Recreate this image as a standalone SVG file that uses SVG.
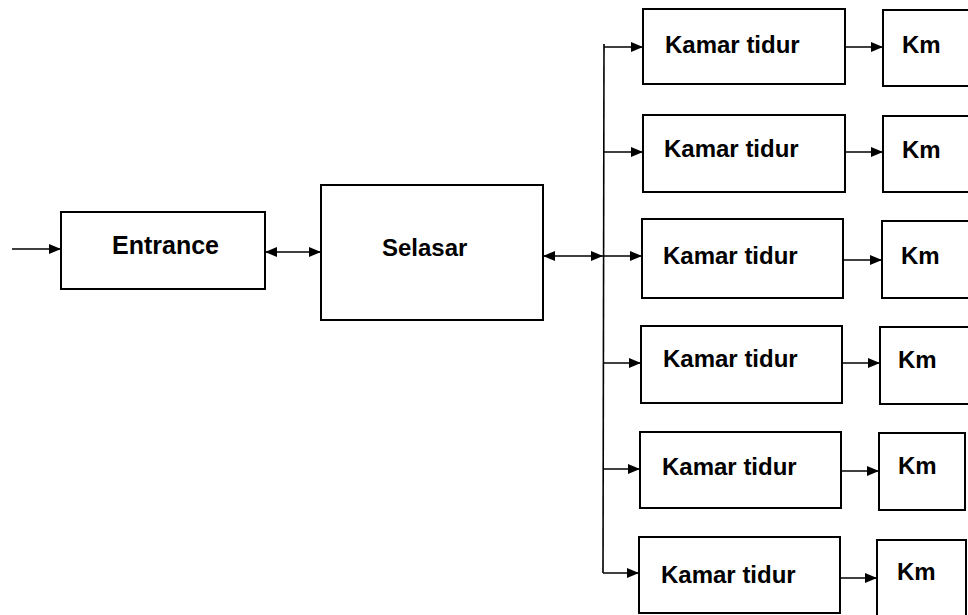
<svg xmlns="http://www.w3.org/2000/svg" width="968" height="615" viewBox="0 0 968 615">
<style>
.box{fill:#fff;stroke:#000;stroke-width:2}
.lbl{font-family:"Liberation Sans",Arial,sans-serif;font-weight:bold;font-size:24px;fill:#000}
.con{stroke:#000;stroke-width:1.6;fill:none}
</style>
<defs>
<marker id="ah" markerUnits="userSpaceOnUse" markerWidth="13" markerHeight="11" refX="12" refY="5" orient="auto-start-reverse">
<path d="M0,0 L12,5 L0,10 z" fill="#000"/>
</marker>
</defs>
<rect width="968" height="615" fill="#fff"/>
<g id="connectors">
<path class="con" d="M12,249 L61,249" marker-end="url(#ah)"/>
<path class="con" d="M265,252 L321,252" marker-start="url(#ah)" marker-end="url(#ah)"/>
<path class="con" d="M543,256 L603,256" marker-start="url(#ah)" marker-end="url(#ah)"/>
<path class="con" d="M604,44 L603,573"/>
<path class="con" d="M604,47 L643,47" marker-end="url(#ah)"/>
<path class="con" d="M604,152 L643,152" marker-end="url(#ah)"/>
<path class="con" d="M603,256 L642,256" marker-end="url(#ah)"/>
<path class="con" d="M603,363 L641,363" marker-end="url(#ah)"/>
<path class="con" d="M603,469 L640,469" marker-end="url(#ah)"/>
<path class="con" d="M603,573 L639,573" marker-end="url(#ah)"/>
<path class="con" d="M845,47 L883,47" marker-end="url(#ah)"/>
<path class="con" d="M845,152 L883,152" marker-end="url(#ah)"/>
<path class="con" d="M843,260 L882,260" marker-end="url(#ah)"/>
<path class="con" d="M842,363 L880,363" marker-end="url(#ah)"/>
<path class="con" d="M841,471 L879,471" marker-end="url(#ah)"/>
<path class="con" d="M840,578 L877,578" marker-end="url(#ah)"/>
</g>
<g id="entrance"><rect class="box" x="61" y="212" width="204" height="77"/><text class="lbl" x="112" y="254" style="font-size:25px">Entrance</text></g>
<g id="selasar"><rect class="box" x="321" y="185" width="222" height="135"/><text class="lbl" x="382" y="256">Selasar</text></g>
<g id="kamar1"><rect class="box" x="643" y="9" width="202" height="75"/><text class="lbl" x="665" y="53">Kamar tidur</text></g>
<g id="kamar2"><rect class="box" x="643" y="115" width="202" height="77"/><text class="lbl" x="664" y="157">Kamar tidur</text></g>
<g id="kamar3"><rect class="box" x="642" y="219" width="201" height="79"/><text class="lbl" x="663" y="264">Kamar tidur</text></g>
<g id="kamar4"><rect class="box" x="641" y="326" width="201" height="77"/><text class="lbl" x="663" y="367">Kamar tidur</text></g>
<g id="kamar5"><rect class="box" x="640" y="432" width="201" height="76"/><text class="lbl" x="662" y="475">Kamar tidur</text></g>
<g id="kamar6"><rect class="box" x="639" y="537" width="201" height="76"/><text class="lbl" x="661" y="583">Kamar tidur</text></g>
<g id="km1"><rect class="box" x="883" y="10" width="90" height="76"/><text class="lbl" x="902" y="53">Km</text></g>
<g id="km2"><rect class="box" x="883" y="116" width="90" height="76"/><text class="lbl" x="902" y="158">Km</text></g>
<g id="km3"><rect class="box" x="882" y="221" width="91" height="77"/><text class="lbl" x="901" y="264">Km</text></g>
<g id="km4"><rect class="box" x="880" y="327" width="93" height="77"/><text class="lbl" x="898" y="368">Km</text></g>
<g id="km5"><rect class="box" x="879" y="433" width="86" height="77"/><text class="lbl" x="898" y="474">Km</text></g>
<g id="km6"><rect class="box" x="877" y="540" width="89" height="80"/><text class="lbl" x="897" y="580">Km</text></g>
</svg>
